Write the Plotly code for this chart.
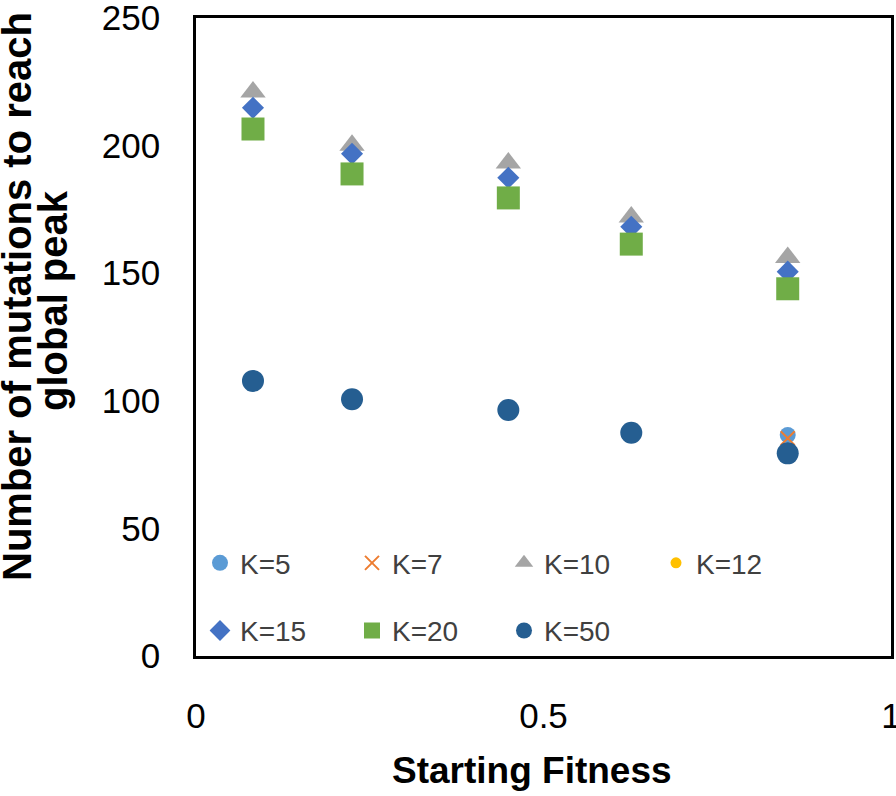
import plotly.graph_objects as go

x_vals = [0.082, 0.2245, 0.4494, 0.6263, 0.8514]

k5 = [107.8, 100.6, 96.4, 87.5, 86.6]
k7 = [107.8, 100.6, 96.4, 87.5, 85.3]
k10 = [221, 200.1, 193.2, 172, 156.2]
k12 = [107.8, 100.6, 96.4, 87.5, 79.4]
k15 = [214.8, 196.8, 187.4, 168.2, 150.6]
k20 = [206.5, 188.9, 179.5, 161.4, 143.9]
k50 = [107.8, 100.6, 96.4, 87.5, 79.4]

y_ticks = [0, 50, 100, 150, 200, 250]
x_ticks = [0, 0.5, 1]
x_tick_text = ["0", "0.5", "1"]

FONT = "Liberation Sans, Arial, sans-serif"

series = [
    ("K=5", k5, dict(symbol="circle", size=16, color="#5B9BD5"), "legend"),
    ("K=7", k7, dict(symbol="x-thin-open", size=14, color="#ED7D31", line=dict(width=2, color="#ED7D31")), "legend"),
    ("K=10", k10, dict(symbol="triangle-up", size=22, color="#A5A5A5"), "legend"),
    ("K=12", k12, dict(symbol="circle", size=11, color="#FFC000"), "legend"),
    ("K=15", k15, dict(symbol="diamond", size=17, color="#4472C4"), "legend2"),
    ("K=20", k20, dict(symbol="square", size=23, color="#70AD47"), "legend2"),
    ("K=50", k50, dict(symbol="circle", size=22, color="#255E91"), "legend2"),
]

fig = go.Figure()
for name, ys, mk, lg in series:
    fig.add_trace(go.Scatter(x=x_vals, y=ys, mode="markers", name=name,
                             marker=mk, legend=lg, cliponaxis=False))

legend_common = dict(orientation="h", xanchor="left", yanchor="middle", x=0.0,
                     indentation=4,
                     font=dict(family=FONT, size=28, color="#404040"),
                     bgcolor="rgba(0,0,0,0)", entrywidth=103, entrywidthmode="pixels",
                     itemsizing="trace")

fig.update_layout(
    width=896, height=796,
    margin=dict(l=196, r=5, t=18, b=140),
    plot_bgcolor="white", paper_bgcolor="white",
    font=dict(family=FONT, size=35, color="black"),
    legend=dict(y=0.1455, **legend_common),
    legend2=dict(y=0.0395, **legend_common),
    xaxis=dict(range=[0, 1], tickvals=x_ticks, ticktext=x_tick_text, automargin=False,
               ticklabeloverflow="allow",
               showgrid=False, zeroline=False, showline=True, mirror=True,
               linecolor="black", linewidth=2.5, ticks="", ticklabelstandoff=27,
               tickfont=dict(family=FONT, size=35, color="black")),
    yaxis=dict(range=[0, 250], tickvals=y_ticks, automargin=False,
               ticklabeloverflow="allow",
               showgrid=False, zeroline=False, showline=True, mirror=True,
               linecolor="black", linewidth=2.5, ticks="", ticklabelstandoff=26,
               tickfont=dict(family=FONT, size=35, color="black")),
    annotations=[
        dict(text="<b>Starting Fitness</b>", xref="paper", yref="paper",
             x=0.4834, y=-0.1787, xanchor="center", yanchor="middle", showarrow=False,
             font=dict(family=FONT, size=37, color="black")),
        dict(text="<b>Number of mutations to reach</b>", xref="paper", yref="paper",
             x=(17.5 - 196) / 695, y=0.5635, xanchor="center", yanchor="middle", showarrow=False,
             textangle=-90, font=dict(family=FONT, size=40, color="black")),
        dict(text="<b>global peak</b>", xref="paper", yref="paper",
             x=(53 - 196) / 695, y=0.5564, xanchor="center", yanchor="middle", showarrow=False,
             textangle=-90, font=dict(family=FONT, size=40, color="black")),
    ],
)

fig.write_html("out.html", config={"displayModeBar": False},
               post_script="document.body.style.margin='0px';document.body.style.overflow='hidden';")
